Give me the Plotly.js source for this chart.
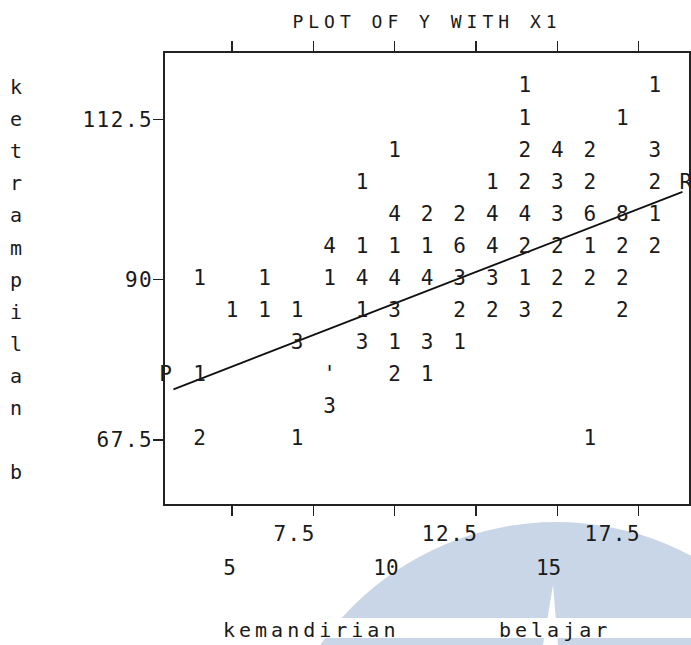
<!DOCTYPE html>
<html>
<head>
<meta charset="utf-8">
<script src="https://cdn.plot.ly/plotly-3.0.1.min.js"></script>
<style>
  html, body { margin: 0; padding: 0; background: #fff; }
  #chart { width: 691px; height: 645px; }
  .gtitle { letter-spacing: 5px; }
  .annotation-text { letter-spacing: 4px; }
  .xaxislayer-above text, .yaxislayer-above text { letter-spacing: 1.5px; }
</style>
</head>
<body>
<div id="chart"></div>
<script>
// X1 = kemandirian belajar (column), Y = row value, label = count printed in the cell
const pointX = [
  14, 18,
  14, 17,
  10, 14, 15, 16, 18,
  9, 13, 14, 15, 16, 18,
  10, 11, 12, 13, 14, 15, 16, 17, 18,
  8, 9, 10, 11, 12, 13, 14, 15, 16, 17, 18,
  4, 6, 8, 9, 10, 11, 12, 13, 14, 15, 16, 17,
  5, 6, 7, 9, 10, 12, 13, 14, 15, 17,
  7, 9, 10, 11, 12,
  4, 8, 10, 11,
  8,
  4, 7, 16
];
const pointY = [
  117, 117,
  112.5, 112.5,
  108, 108, 108, 108, 108,
  103.5, 103.5, 103.5, 103.5, 103.5, 103.5,
  99, 99, 99, 99, 99, 99, 99, 99, 99,
  94.5, 94.5, 94.5, 94.5, 94.5, 94.5, 94.5, 94.5, 94.5, 94.5, 94.5,
  90, 90, 90, 90, 90, 90, 90, 90, 90, 90, 90, 90,
  85.5, 85.5, 85.5, 85.5, 85.5, 85.5, 85.5, 85.5, 85.5, 85.5,
  81, 81, 81, 81, 81,
  76.5, 76.5, 76.5, 76.5,
  72,
  67.5, 67.5, 67.5
];
const pointLabel = [
  '1', '1',
  '1', '1',
  '1', '2', '4', '2', '3',
  '1', '1', '2', '3', '2', '2',
  '4', '2', '2', '4', '4', '3', '6', '8', '1',
  '4', '1', '1', '1', '6', '4', '2', '2', '1', '2', '2',
  '1', '1', '1', '4', '4', '4', '3', '3', '1', '2', '2', '2',
  '1', '1', '1', '1', '3', '2', '2', '3', '2', '2',
  '3', '3', '1', '3', '1',
  '1', "'", '2', '1',
  '3',
  '2', '1', '1'
];

// regression line ends and their markers
const lineX = [3.2, 18.85];
const lineY = [74.6, 102.3];
const endMarkX = [2.96, 18.95];
const endMarkY = [76.5, 103.5];
const endMarkText = ['P', 'R'];

// axis ticks
const xTickVals = [5, 7.5, 10, 12.5, 15, 17.5];
const xTickUpper = ['', '7.5', '', '12.5', '', '17.5'];
const xTickLowerVals = [5, 10, 15];
const xTickLower = ['5', '10', '15'];
const yTickVals = [67.5, 90, 112.5];
const yTickText = ['67.5', '90', '112.5'];

// vertical y-axis title letters, one per print row
const yTitleLetters = ['k', 'e', 't', 'r', 'a', 'm', 'p', 'i', 'l', 'a', 'n', 'b'];
const yTitleRows = [117, 112.5, 108, 103.5, 99, 94.5, 90, 85.5, 81, 76.5, 72, 63];
const xTitleWords = ['kemandirian', 'belajar'];
const xTitlePos = [0.2786, 0.7452];

const FONT = 'DejaVu Sans Mono, monospace';
const INK = '#1a1a1a';

const traces = [
  {
    type: 'scatter', mode: 'lines', x: lineX, y: lineY,
    line: { color: '#111', width: 1.8 }, hoverinfo: 'skip', showlegend: false
  },
  {
    type: 'scatter', mode: 'text', x: pointX, y: pointY, text: pointLabel,
    textposition: 'middle center',
    textfont: { family: FONT, size: 21, color: INK },
    cliponaxis: false, hoverinfo: 'skip', showlegend: false
  },
  {
    type: 'scatter', mode: 'text', x: endMarkX, y: endMarkY, text: endMarkText,
    xaxis: 'x2',
    textposition: 'middle center',
    textfont: { family: FONT, size: 21, color: INK },
    cliponaxis: false, hoverinfo: 'skip', showlegend: false
  }
];

const annotations = [];
yTitleLetters.forEach((ch, i) => {
  annotations.push({
    text: ch, xref: 'paper', yref: 'y', x: -0.2805, y: yTitleRows[i],
    xanchor: 'center', yanchor: 'middle', showarrow: false,
    font: { family: FONT, size: 20, color: INK }
  });
});
xTitleWords.forEach((w, i) => {
  annotations.push({
    text: w, xref: 'paper', yref: 'paper', x: xTitlePos[i], y: -0.279,
    xanchor: 'center', yanchor: 'middle', showarrow: false,
    font: { family: FONT, size: 20, color: INK }
  });
});

const shapes = [
  { type: 'circle', layer: 'below', xref: 'paper', yref: 'paper',
    x0: 0.195, x1: 1.298, y0: -1.330, y1: -0.040,
    fillcolor: '#c9d6e8', line: { width: 0 } },
  { type: 'rect', layer: 'below', xref: 'paper', yref: 'paper',
    x0: -0.4, x1: 1.2, y0: -0.2971, y1: -0.2528,
    fillcolor: '#ffffff', line: { width: 0 } },
  { type: 'path', layer: 'below', xref: 'paper', yref: 'paper',
    path: 'M 0.7405 -0.1796 L 0.7500 -0.3126 L 0.7214 -0.3126 Z',
    fillcolor: '#ffffff', line: { width: 0 } }
];

const axisCommon = {
  showgrid: false, zeroline: false,
  showline: true, mirror: 'ticks', linecolor: '#222', linewidth: 1.6,
  ticks: 'outside', ticklen: 10, tickwidth: 1.4, tickcolor: '#222',
  tickfont: { family: FONT, size: 21, color: INK }
};

const layout = {
  width: 691, height: 645,
  margin: { l: 165, r: 2, t: 53, b: 141, pad: 0 },
  paper_bgcolor: '#ffffff', plot_bgcolor: 'rgba(0,0,0,0)',
  showlegend: false,
  title: {
    text: 'PLOT OF Y WITH X1', xref: 'paper', x: 0.5, xanchor: 'center',
    yref: 'container', y: 0.966, yanchor: 'middle',
    font: { family: FONT, size: 18, color: INK }
  },
  xaxis: Object.assign({}, axisCommon, {
    range: [2.94, 19.05],
    tickmode: 'array', tickvals: xTickVals, ticktext: xTickUpper,
    ticklabelposition: 'outside left', ticklabelstandoff: 10,
    ticklabelshift: 4
  }),
  xaxis2: {
    overlaying: 'x', matches: 'x', anchor: 'y', side: 'bottom',
    range: [2.94, 19.05],
    showgrid: false, zeroline: false, showline: false, ticks: '',
    tickmode: 'array', tickvals: xTickLowerVals, ticktext: xTickLower,
    ticklabelposition: 'outside left', ticklabelstandoff: 49,
    ticklabelshift: 4,
    tickfont: { family: FONT, size: 21, color: INK }
  },
  yaxis: Object.assign({}, axisCommon, {
    range: [58.5, 121.8],
    tickmode: 'array', tickvals: yTickVals, ticktext: yTickText,
    ticklabelstandoff: -4
  }),
  annotations: annotations,
  shapes: shapes
};

Plotly.newPlot('chart', traces, layout, { staticPlot: true, displayModeBar: false });
</script>
</body>
</html>
